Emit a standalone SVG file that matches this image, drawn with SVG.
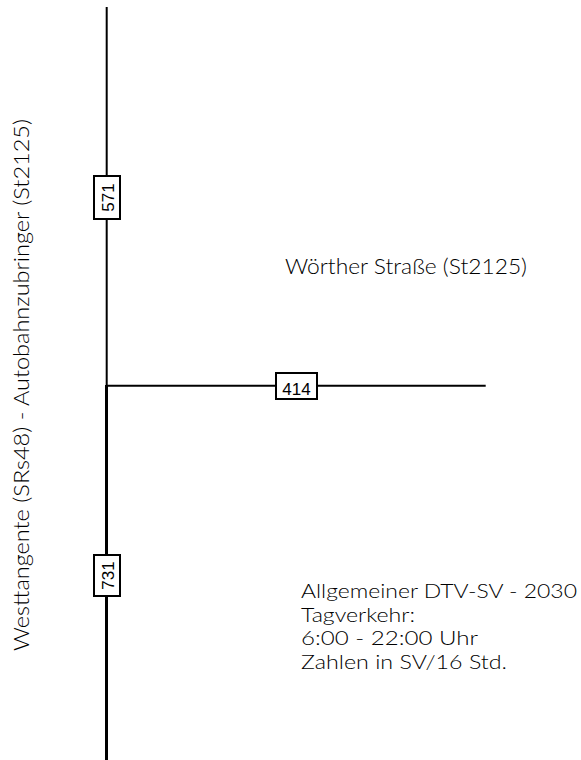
<svg xmlns="http://www.w3.org/2000/svg" width="581" height="760" viewBox="0 0 581 760">
  <style>
    .road { stroke: #000; fill: none; stroke-linecap: butt; }
    .box rect { fill: #fff; stroke: #000; stroke-width: 2; }
    .box text { font-family: "Liberation Sans", Arial, sans-serif; font-size: 17px; fill: #000; text-anchor: middle; }
    .label { font-family: Lato, "Liberation Sans", Arial, sans-serif; font-weight: 300; font-size: 22px; fill: #000; }
    .legend text { font-size: 19.5px; }
  </style>
  <rect x="0" y="0" width="581" height="760" fill="#fff"/>

  <!-- road axes -->
  <g id="connectors">
    <line class="road" x1="106.7" y1="7" x2="106.7" y2="386" stroke-width="2"/>
    <line class="road" x1="106.5" y1="385" x2="106.5" y2="760" stroke-width="3"/>
    <line class="road" x1="106" y1="385.7" x2="485.7" y2="385.7" stroke-width="2"/>
  </g>

  <!-- traffic count boxes -->
  <g id="count-571" class="box">
    <rect x="94" y="176" width="26" height="43"/>
    <text transform="translate(113.5 197.5) rotate(-90)">571</text>
  </g>
  <g id="count-731" class="box">
    <rect x="94" y="555" width="26" height="41"/>
    <text transform="translate(113.5 575.5) rotate(-90)">731</text>
  </g>
  <g id="count-414" class="box">
    <rect x="276" y="373" width="41" height="26"/>
    <text x="296.5" y="394.5">414</text>
  </g>

  <!-- street names -->
  <g id="name-westtangente">
    <text class="label" text-anchor="middle" transform="translate(29 385) rotate(-90)" textLength="532" lengthAdjust="spacingAndGlyphs">Westtangente (SRs48) - Autobahnzubringer (St2125)</text>
  </g>
  <g id="name-woerther">
    <text class="label" x="285" y="274" textLength="242" lengthAdjust="spacingAndGlyphs">Wörther Straße (St2125)</text>
  </g>

  <!-- legend -->
  <g id="legend" class="label legend">
    <text x="301" y="598" textLength="276" lengthAdjust="spacingAndGlyphs">Allgemeiner DTV-SV - 2030</text>
    <text x="301" y="621.5" textLength="114" lengthAdjust="spacingAndGlyphs">Tagverkehr:</text>
    <text x="301" y="645" textLength="177" lengthAdjust="spacingAndGlyphs">6:00 - 22:00 Uhr</text>
    <text x="301" y="668.5" textLength="206" lengthAdjust="spacingAndGlyphs">Zahlen in SV/16 Std.</text>
  </g>
</svg>
